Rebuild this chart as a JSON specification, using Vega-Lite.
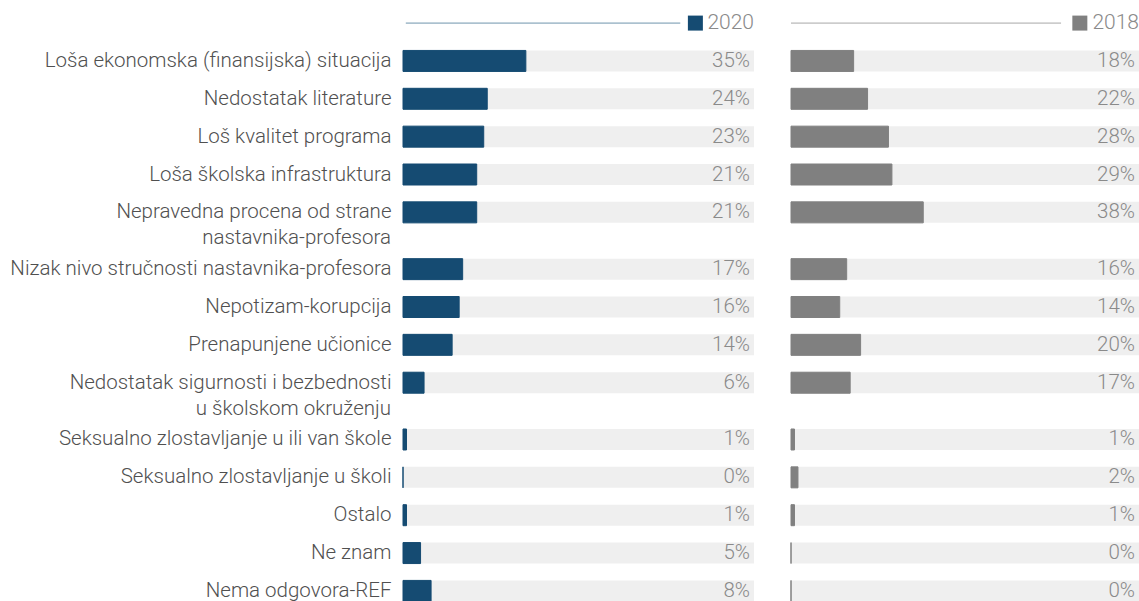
{
  "$schema": "https://vega.github.io/schema/vega-lite/v6.json",
  "padding": {"left": 9, "top": 0, "right": 0, "bottom": 0},
  "background": "#ffffff",
  "config": {
    "view": {"stroke": null},
    "concat": {"spacing": 36},
    "text": {"font": "Roboto", "fontWeight": 300},
    "axis": {"labelFont": "Roboto", "labelFontWeight": 300}
  },
  "datasets": {
    "rows": [
      {"cat": "Loša ekonomska (finansijska) situacija", "cat2": "", "year": "2020", "value": 0.35},
      {"cat": "Nedostatak literature", "cat2": "", "year": "2020", "value": 0.24},
      {"cat": "Loš kvalitet programa", "cat2": "", "year": "2020", "value": 0.23},
      {"cat": "Loša školska infrastruktura", "cat2": "", "year": "2020", "value": 0.21},
      {"cat": "Nepravedna procena od strane", "cat2": "nastavnika-profesora", "year": "2020", "value": 0.21},
      {"cat": "Nizak nivo stručnosti nastavnika-profesora", "cat2": "", "year": "2020", "value": 0.17},
      {"cat": "Nepotizam-korupcija", "cat2": "", "year": "2020", "value": 0.16},
      {"cat": "Prenapunjene učionice", "cat2": "", "year": "2020", "value": 0.14},
      {"cat": "Nedostatak sigurnosti i bezbednosti", "cat2": "u školskom okruženju", "year": "2020", "value": 0.06},
      {"cat": "Seksualno zlostavljanje u ili van škole", "cat2": "", "year": "2020", "value": 0.01},
      {"cat": "Seksualno zlostavljanje u školi", "cat2": "", "year": "2020", "value": 0.0},
      {"cat": "Ostalo", "cat2": "", "year": "2020", "value": 0.01},
      {"cat": "Ne znam", "cat2": "", "year": "2020", "value": 0.05},
      {"cat": "Nema odgovora-REF", "cat2": "", "year": "2020", "value": 0.08},
      {"cat": "Loša ekonomska (finansijska) situacija", "cat2": "", "year": "2018", "value": 0.18},
      {"cat": "Nedostatak literature", "cat2": "", "year": "2018", "value": 0.22},
      {"cat": "Loš kvalitet programa", "cat2": "", "year": "2018", "value": 0.28},
      {"cat": "Loša školska infrastruktura", "cat2": "", "year": "2018", "value": 0.29},
      {"cat": "Nepravedna procena od strane", "cat2": "nastavnika-profesora", "year": "2018", "value": 0.38},
      {"cat": "Nizak nivo stručnosti nastavnika-profesora", "cat2": "", "year": "2018", "value": 0.16},
      {"cat": "Nepotizam-korupcija", "cat2": "", "year": "2018", "value": 0.14},
      {"cat": "Prenapunjene učionice", "cat2": "", "year": "2018", "value": 0.20},
      {"cat": "Nedostatak sigurnosti i bezbednosti", "cat2": "u školskom okruženju", "year": "2018", "value": 0.17},
      {"cat": "Seksualno zlostavljanje u ili van škole", "cat2": "", "year": "2018", "value": 0.01},
      {"cat": "Seksualno zlostavljanje u školi", "cat2": "", "year": "2018", "value": 0.02},
      {"cat": "Ostalo", "cat2": "", "year": "2018", "value": 0.01},
      {"cat": "Ne znam", "cat2": "", "year": "2018", "value": 0.0},
      {"cat": "Nema odgovora-REF", "cat2": "", "year": "2018", "value": 0.0}
    ],
    "years": [{"year": "2020"}, {"year": "2018"}]
  },
  "hconcat": [
    {
      "width": 351,
      "height": 614,
      "encoding": {
        "y": {
          "field": "cat", "type": "nominal", "sort": null,
          "scale": {"domain": ["_h", "_1", "Loša ekonomska (finansijska) situacija", "_2", "Nedostatak literature", "_3", "Loš kvalitet programa", "_4", "Loša školska infrastruktura", "_5", "Nepravedna procena od strane", "_6", "_7", "Nizak nivo stručnosti nastavnika-profesora", "_8", "Nepotizam-korupcija", "_9", "Prenapunjene učionice", "_10", "Nedostatak sigurnosti i bezbednosti", "_11", "_12", "Seksualno zlostavljanje u ili van škole", "_13", "Seksualno zlostavljanje u školi", "_14", "Ostalo", "_15", "Ne znam", "_16", "Nema odgovora-REF"], "paddingInner": 0, "paddingOuter": 0.72},
          "axis": {"title": null, "domain": false, "ticks": false, "labelPadding": 12, "labelFontSize": 20.5, "labelColor": "#505050", "labelLimit": 600, "labelExpr": "indexof(datum.value, '_') == 0 ? '' : datum.value"}
        }
      },
      "layer": [
        {
          "data": {"name": "rows"},
          "transform": [{"filter": "datum.year == '2020'"}],
          "mark": {"type": "bar", "color": "#efefef", "height": 21},
          "encoding": {"x": {"datum": 1, "type": "quantitative", "scale": {"domain": [0, 1]}, "axis": null}}
        },
        {
          "data": {"name": "rows"},
          "transform": [{"filter": "datum.year == '2020'"}],
          "mark": {"type": "bar", "color": "#154b72", "stroke": "#154b72", "strokeWidth": 1, "height": 21},
          "encoding": {"x": {"field": "value", "type": "quantitative", "axis": null}}
        },
        {
          "data": {"name": "rows"},
          "transform": [{"filter": "datum.year == '2020'"}],
          "mark": {"type": "text", "align": "right", "baseline": "middle", "dx": -4, "fontSize": 20.5, "color": "#8a8a8a"},
          "encoding": {"x": {"datum": 1, "type": "quantitative", "axis": null}, "text": {"field": "value", "format": ".0%"}}
        },
        {
          "data": {"name": "rows"},
          "transform": [{"filter": "datum.year == '2020' && datum.cat2 != ''"}],
          "mark": {"type": "text", "align": "right", "baseline": "middle", "dx": -12, "dy": 26, "fontSize": 20.5, "color": "#505050"},
          "encoding": {"x": {"datum": 0, "type": "quantitative", "axis": null}, "text": {"field": "cat2"}}
        },
        {
          "data": {"name": "years"},
          "transform": [{"filter": "datum.year == '2020'"}],
          "mark": {"type": "rule", "color": "#6f95ad", "strokeWidth": 1},
          "encoding": {"x": {"datum": 0.008, "type": "quantitative", "axis": null}, "x2": {"datum": 0.79}, "y": {"datum": "_h", "type": "nominal"}}
        },
        {
          "data": {"name": "years"},
          "transform": [{"filter": "datum.year == '2020'"}],
          "mark": {"type": "point", "shape": "square", "filled": true, "opacity": 1, "size": 225, "color": "#154b72"},
          "encoding": {"x": {"datum": 0.833, "type": "quantitative", "axis": null}, "y": {"datum": "_h", "type": "nominal"}}
        },
        {
          "data": {"name": "years"},
          "transform": [{"filter": "datum.year == '2020'"}],
          "mark": {"type": "text", "align": "right", "baseline": "middle", "fontSize": 21, "color": "#8a8a8a"},
          "encoding": {"x": {"datum": 1, "type": "quantitative", "axis": null}, "y": {"datum": "_h", "type": "nominal"}, "text": {"field": "year"}}
        }
      ]
    },
    {
      "width": 348,
      "height": 614,
      "encoding": {
        "y": {
          "field": "cat", "type": "nominal", "sort": null,
          "scale": {"domain": ["_h", "_1", "Loša ekonomska (finansijska) situacija", "_2", "Nedostatak literature", "_3", "Loš kvalitet programa", "_4", "Loša školska infrastruktura", "_5", "Nepravedna procena od strane", "_6", "_7", "Nizak nivo stručnosti nastavnika-profesora", "_8", "Nepotizam-korupcija", "_9", "Prenapunjene učionice", "_10", "Nedostatak sigurnosti i bezbednosti", "_11", "_12", "Seksualno zlostavljanje u ili van škole", "_13", "Seksualno zlostavljanje u školi", "_14", "Ostalo", "_15", "Ne znam", "_16", "Nema odgovora-REF"], "paddingInner": 0, "paddingOuter": 0.72},
          "axis": null
        }
      },
      "layer": [
        {
          "data": {"name": "rows"},
          "transform": [{"filter": "datum.year == '2018'"}],
          "mark": {"type": "bar", "color": "#efefef", "height": 21},
          "encoding": {"x": {"datum": 1, "type": "quantitative", "scale": {"domain": [0, 1]}, "axis": null}}
        },
        {
          "data": {"name": "rows"},
          "transform": [{"filter": "datum.year == '2018'"}],
          "mark": {"type": "bar", "color": "#808080", "stroke": "#808080", "strokeWidth": 1, "height": 21},
          "encoding": {"x": {"field": "value", "type": "quantitative", "axis": null}}
        },
        {
          "data": {"name": "rows"},
          "transform": [{"filter": "datum.year == '2018'"}],
          "mark": {"type": "text", "align": "right", "baseline": "middle", "dx": -4, "fontSize": 20.5, "color": "#8a8a8a"},
          "encoding": {"x": {"datum": 1, "type": "quantitative", "axis": null}, "text": {"field": "value", "format": ".0%"}}
        },
        {
          "data": {"name": "years"},
          "transform": [{"filter": "datum.year == '2018'"}],
          "mark": {"type": "rule", "color": "#a8a8a8", "strokeWidth": 1},
          "encoding": {"x": {"datum": 0, "type": "quantitative", "axis": null}, "x2": {"datum": 0.776}, "y": {"datum": "_h", "type": "nominal"}}
        },
        {
          "data": {"name": "years"},
          "transform": [{"filter": "datum.year == '2018'"}],
          "mark": {"type": "point", "shape": "square", "filled": true, "opacity": 1, "size": 225, "color": "#808080"},
          "encoding": {"x": {"datum": 0.83, "type": "quantitative", "axis": null}, "y": {"datum": "_h", "type": "nominal"}}
        },
        {
          "data": {"name": "years"},
          "transform": [{"filter": "datum.year == '2018'"}],
          "mark": {"type": "text", "align": "right", "baseline": "middle", "fontSize": 21, "color": "#8a8a8a"},
          "encoding": {"x": {"datum": 1, "type": "quantitative", "axis": null}, "y": {"datum": "_h", "type": "nominal"}, "text": {"field": "year"}}
        }
      ]
    }
  ]
}
